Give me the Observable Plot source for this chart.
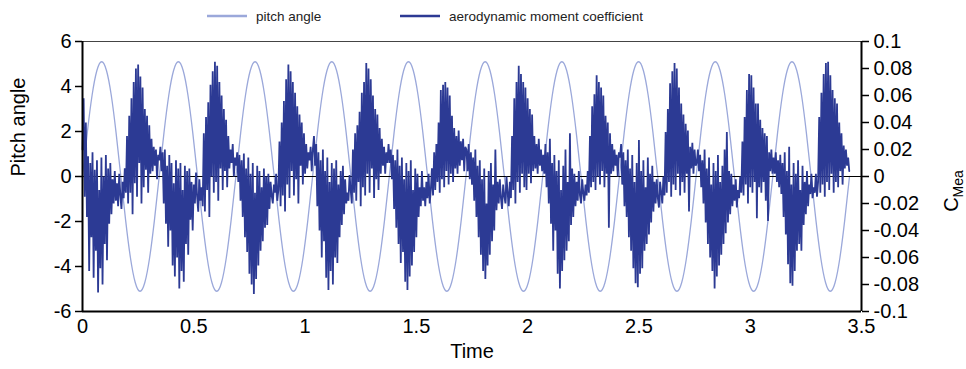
<!DOCTYPE html>
<html><head><meta charset="utf-8">
<script src="https://cdn.jsdelivr.net/npm/d3@7"></script>
<script src="https://cdn.jsdelivr.net/npm/@observablehq/plot@0.6"></script>
<style>
body{margin:0;background:#fff;font-family:"Liberation Sans",Arial,sans-serif;}
#wrap{position:relative;width:966px;height:369px;overflow:hidden;}
#legend{position:absolute;top:7px;left:0;width:966px;height:18px;font-size:13.5px;color:#222;}
.item{position:absolute;top:0;height:18px;display:flex;align-items:center;white-space:nowrap;}
.item svg{margin-right:9px;}
</style></head><body>
<div id="wrap"><div id="chart"></div><div id="legend"></div></div>
<script>
// Pitch angle (deg), sampled every pitchStep seconds
const pitchStep = 0.021538;
const pitch = [
0,1.95,3.61,4.71,5.1,4.71,3.61,1.95,0,-1.95,-3.61,-4.71,-5.1,-4.71,-3.61,-1.95,
0,1.95,3.61,4.71,5.1,4.71,3.61,1.95,0,-1.95,-3.61,-4.71,-5.1,-4.71,-3.61,-1.95,
0,1.95,3.61,4.71,5.1,4.71,3.61,1.95,0,-1.95,-3.61,-4.71,-5.1,-4.71,-3.61,-1.95,
0,1.95,3.61,4.71,5.1,4.71,3.61,1.95,0,-1.95,-3.61,-4.71,-5.1,-4.71,-3.61,-1.95,
0,1.95,3.61,4.71,5.1,4.71,3.61,1.95,0,-1.95,-3.61,-4.71,-5.1,-4.71,-3.61,-1.95,
0,1.95,3.61,4.71,5.1,4.71,3.61,1.95,0,-1.95,-3.61,-4.71,-5.1,-4.71,-3.61,-1.95,
0,1.95,3.61,4.71,5.1,4.71,3.61,1.95,0,-1.95,-3.61,-4.71,-5.1,-4.71,-3.61,-1.95,
0,1.95,3.61,4.71,5.1,4.71,3.61,1.95,0,-1.95,-3.61,-4.71,-5.1,-4.71,-3.61,-1.95,
0,1.95,3.61,4.71,5.1,4.71,3.61,1.95,0,-1.95,-3.61,-4.71,-5.1,-4.71,-3.61,-1.95,
0,1.95,3.61,4.71,5.1,4.71,3.61,1.95,0,-1.95,-3.61,-4.71,-5.1,-4.71,-3.61,-1.95,
0];

// Aerodynamic moment coefficient C_Mea, sampled every cmStep seconds, one array per pitch cycle
const cmStep = 0.005;
const cm0 = [.02,.058,-.015,.04,-.03,.015,-.07,.01,-.045,.018,
-.075,.005,-.055,.012,-.086,-.01,-.068,.014,-.08,0,
-.05,.016,-.062,.006,-.035,.01,-.028,-.002,-.02,.004,
-.018,-.005,-.022,.002,-.014,-.024,-.004,-.016,.006,-.012,
.03,-.02,.045,-.012,.058,-.028,.07,-.005,.08,-.015,
.083,.01,.074,-.02,.066,-.008,.05,.005,.045,-.012,
.038,.002,.028,.004,.022,.008,.02,-.002,.016];
const cm1 = [.012,.022,.004,.018,-.02,.02,-.035,.008,-.052,.016,
-.04,.01,-.066,-.005,-.074,.012,-.06,.006,-.083,.01,
-.07,-.01,-.078,.008,-.05,.004,-.058,.006,-.032,-.004,
-.04,-.006,-.02,.003,-.015,-.026,-.002,-.018,-.008,-.022,
.032,-.026,.044,-.01,.055,-.03,.068,0,.078,-.012,
.085,-.004,.082,-.018,.07,.006,.06,-.01,.05,.004,
.042,-.008,.03,.006,.02,.01,.024,0,.014];
const cm2 = [.008,.018,-.004,.016,-.018,.012,-.03,.017,-.045,.006,
-.056,.014,-.072,.002,-.08,.01,-.087,-.012,-.076,.008,
-.066,.004,-.055,-.008,-.048,.006,-.038,0,-.036,.002,
-.024,-.004,-.014,-.02,-.006,-.012,.002,-.018,-.01,.026,
-.022,.04,-.014,.056,-.026,.072,-.006,.083,-.016,.078,
.004,.07,-.014,.062,-.002,.052,-.02,.046,.008,.04,
-.006,.032,.002,.024,.006,.018,.012,.022,.004];
const cm3 = [.02,.03,.008,.024,-.022,.018,-.04,.012,-.06,.02,
-.048,.004,-.075,.014,-.084,-.004,-.07,.01,-.08,.006,
-.06,.012,-.064,-.006,-.045,.004,-.036,.008,-.028,-.002,
-.02,-.012,-.018,.001,-.01,-.02,.02,-.012,.032,-.018,
.038,-.004,.048,-.022,.062,-.008,.07,-.014,.084,.002,
.08,-.012,.072,.006,.06,-.016,.05,-.002,.046,-.01,
.036,.002,.028,.008,.022,.002,.018,.01,.024];
const cm4 = [.01,.02,-.002,.016,-.024,.012,-.038,.02,-.05,.008,
-.064,.014,-.056,-.002,-.078,.01,-.084,.004,-.074,.012,
-.066,-.01,-.056,.006,-.045,.002,-.03,-.008,-.022,.004,
-.018,-.008,-.022,-.004,-.016,.002,-.02,-.01,.006,-.014,
.018,-.01,.024,-.004,.04,-.012,.064,-.002,.068,-.008,
.07,.004,.066,-.006,.06,.002,.045,-.004,.036,.006,
.03,.002,.034,.008,.026,.012,.028,.004,.022];
const cm5 = [.02,.004,.024,-.002,.018,-.006,.014,-.018,.02,-.03,
.008,-.045,.012,-.058,-.002,-.07,.006,-.076,-.02,-.066,
.004,-.058,.01,-.048,-.006,-.04,.02,-.025,-.004,-.02,
-.002,-.016,-.024,-.006,-.014,-.02,0,-.012,-.022,-.004,
-.016,.03,-.01,.058,-.02,.07,-.004,.082,-.012,.076,
.002,.07,-.008,.066,-.01,.058,.002,.05,-.005,.046,
.004,.03,.006,.024,.002,.028,.008,.02,.004];
const cm6 = [.016,.002,.024,-.008,.018,-.02,.028,-.035,.01,-.055,
.016,-.04,.004,-.072,.012,-.083,-.01,-.07,.008,-.062,
.02,-.055,-.004,-.048,.032,-.036,.006,-.03,.002,-.022,
-.004,-.018,.004,-.014,-.02,-.002,-.012,-.018,-.006,-.014,
.004,-.012,.03,-.008,.052,-.004,.061,-.01,.075,0,
.07,-.006,.066,.004,.06,-.008,.045,.002,.04,-.038,
.032,.002,.024,.004,.02,.008,.016,0,.018];
const cm7 = [.014,.024,-.006,.018,-.022,.012,-.03,.02,-.045,.006,
-.055,.016,-.068,-.004,-.079,.01,-.082,.027,-.072,.004,
-.068,.012,-.055,-.008,-.05,.014,-.043,.002,-.034,.008,
-.026,-.004,-.02,-.002,-.016,-.023,-.004,-.012,-.02,0,
-.014,.033,-.012,.05,-.004,.069,-.015,.078,-.006,.084,
-.01,.08,.002,.066,-.014,.054,-.004,.046,-.012,.039,
.002,.034,-.026,.022,.006,.025,.002,.02,.008];
const cm8 = [.01,.02,.004,.016,-.008,.012,-.02,.02,-.034,.006,
-.05,.014,-.06,-.006,-.07,.01,-.083,.004,-.074,.016,
-.066,-.004,-.058,.008,-.05,.02,-.042,.033,-.034,.004,
-.028,.002,-.022,-.006,-.018,-.002,-.023,-.01,-.016,0,
-.012,.026,-.014,.044,-.006,.064,-.02,.076,-.008,.075,
-.012,.066,-.004,.054,-.031,.054,-.008,.042,-.012,.036,
-.004,.032,-.018,.03,-.033,.018,.004,.02,.002];
const cm9 = [.014,.002,.018,-.004,.012,-.008,.016,-.013,.01,-.03,
.018,-.043,.004,-.065,.022,-.079,-.006,-.081,.01,-.07,
.002,-.055,.012,-.05,-.01,-.055,.008,-.036,-.004,-.028,
.004,-.022,-.006,-.013,.002,-.016,-.008,-.012,.002,-.015,
-.004,.044,-.012,.062,-.006,.076,-.015,.084,-.004,.085,
-.01,.075,.002,.064,-.012,.058,-.004,.054,-.008,.04,
.004,.032,-.006,.023,.006,.02,.008,.014,.004];

const timeTicks = [0, 0.5, 1, 1.5, 2, 2.5, 3, 3.5];
const pitchTicks = [-6, -4, -2, 0, 2, 4, 6];
const cmTicks = [-0.1, -0.08, -0.06, -0.04, -0.02, 0, 0.02, 0.04, 0.06, 0.08, 0.1];
const legendLabels = ["pitch angle", "aerodynamic moment coefficient"];
const colors = ["#9ba8da", "#2c3a94"];

const pitchData = pitch.map((v, i) => ({t: i * pitchStep, v}));
const cmData = [cm0, cm1, cm2, cm3, cm4, cm5, cm6, cm7, cm8, cm9].flat().map((v, i) => ({t: i * cmStep, v}));
const k = 6 / 0.1; // right axis (C_Mea) to left axis (pitch) units

const chart = Plot.plot({
  width: 966, height: 369,
  marginLeft: 82, marginRight: 105, marginTop: 41, marginBottom: 58,
  style: {fontFamily: "'Liberation Sans', Arial, sans-serif", fontSize: "20px", color: "#000", background: "#fff"},
  x: {domain: [0, 3.5]},
  y: {domain: [-6, 6]},
  marks: [
    Plot.line(pitchData, {x: "t", y: "v", stroke: colors[0], strokeWidth: 1.3, curve: "natural"}),
    Plot.ruleY([0], {stroke: "#000", strokeWidth: 1.2}),
    Plot.line(cmData, {x: "t", y: d => d.v * k, stroke: colors[1], strokeWidth: 1.8, strokeLinejoin: "miter"}),
    Plot.ruleY([6], {stroke: "#444", strokeWidth: 1}),
    Plot.ruleY([-6], {stroke: "#000", strokeWidth: 2}),
    Plot.ruleX([0, 3.5], {stroke: "#000", strokeWidth: 2}),
    Plot.axisX({ticks: timeTicks, tickSize: 0, tickPadding: 7, tickFormat: d => String(d), label: null, fontSize: 20}),
    Plot.axisY({ticks: pitchTicks, tickSize: 7, tickPadding: 4, strokeWidth: 1.5, tickFormat: d => String(d), label: null, fontSize: 20}),
    Plot.axisY({anchor: "right", ticks: cmTicks.map(v => v * k), tickSize: 7, tickPadding: 5, strokeWidth: 1.5,
      tickFormat: d => String(+(d / k).toFixed(2)), label: null, fontSize: 20}),
    Plot.text(["Time"], {frameAnchor: "bottom", dy: 46, fontSize: 20}),
    Plot.text(["Pitch angle"], {frameAnchor: "left", dx: -64, rotate: -90, fontSize: 20})
  ]
});
document.getElementById("chart").appendChild(chart);

// right axis label with subscript
const lab = d3.select(chart).append("text")
  .attr("transform", "translate(958,191) rotate(-90)")
  .attr("text-anchor", "middle")
  .attr("font-size", 20)
  .attr("fill", "#000");
lab.append("tspan").text("C");
lab.append("tspan").attr("font-size", 14).attr("dy", 5).text("Mea");

// legend
const legendX = [207, 400];
const legend = d3.select("#legend");
legendLabels.forEach((name, i) => {
  const item = legend.append("div").attr("class", "item").style("left", legendX[i] + "px");
  const s = item.append("svg").attr("width", 40).attr("height", 10);
  s.append("line").attr("x1", 0).attr("x2", 40).attr("y1", 5).attr("y2", 5)
    .attr("stroke", colors[i]).attr("stroke-width", 2.5);
  item.append("span").text(name);
});
</script>
</body></html>
